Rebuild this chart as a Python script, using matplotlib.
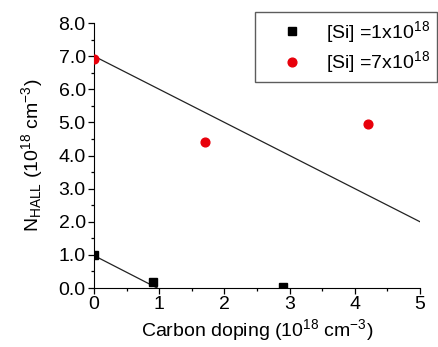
import numpy as np
import matplotlib
matplotlib.use("Agg")
import matplotlib.pyplot as plt
from matplotlib.ticker import MultipleLocator

plt.rcParams['font.family'] = ['Liberation Sans', 'DejaVu Sans']
plt.rcParams['mathtext.fontset'] = 'custom'
plt.rcParams['mathtext.rm'] = 'Liberation Sans'
plt.rcParams['mathtext.it'] = 'Liberation Sans'
plt.rcParams['mathtext.bf'] = 'Liberation Sans:bold'

# data
si1_x = [0.0, 0.9, 2.9]
si1_y = [1.0, 0.18, 0.02]
si7_x = [0.0, 1.7, 4.2]
si7_y = [6.9, 4.4, 4.95]

# linear guide lines
fit1_x = [0.0, 0.97]
fit1_y = [0.98, 0.0]
fit7_x = [0.0, 5.0]
fit7_y = [7.0, 2.0]

fig = plt.figure(figsize=(4.38, 3.47), dpi=100)
ax = fig.add_axes([0.2146, 0.170, 0.7443, 0.7637])

ax.plot(fit1_x, fit1_y, color='#222222', lw=0.9, zorder=2)
ax.plot(fit7_x, fit7_y, color='#222222', lw=0.9, zorder=2)
ax.plot(si1_x, si1_y, 's', color='black', ms=5.5, ls='none',
        label=r'[Si] =1x10$^{18}$', zorder=3)
ax.plot(si7_x, si7_y, 'o', color='#e8000b', ms=6.3, ls='none',
        label=r'[Si] =7x10$^{18}$', zorder=3)

ax.set_xlim(0, 5)
ax.set_ylim(0, 8)
ax.xaxis.set_major_locator(MultipleLocator(1))
ax.xaxis.set_minor_locator(MultipleLocator(0.5))
ax.yaxis.set_major_locator(MultipleLocator(1))
ax.yaxis.set_minor_locator(MultipleLocator(0.5))
ax.set_yticks(np.arange(0, 9, 1))
ax.set_yticklabels(['%.1f' % v for v in np.arange(0, 9, 1)])

ax.spines['top'].set_visible(False)
ax.spines['right'].set_visible(False)
ax.tick_params(which='major', direction='out', length=4, width=0.9, labelsize=14, pad=2)
ax.tick_params(which='minor', direction='out', length=2.5, width=0.9)

ax.set_xlabel(r'Carbon doping (10$^{18}$ cm$^{-3}$)', fontsize=14, labelpad=3)
ax.set_ylabel(r'N$_{HALL}$ (10$^{18}$ cm$^{-3}$)', fontsize=14, labelpad=10)

leg = fig.legend(loc='upper left', bbox_to_anchor=(0.582, 0.966), frameon=True,
                 fancybox=False, fontsize=14, handlelength=3.1, handletextpad=0.2,
                 borderpad=0.35, labelspacing=0.25, borderaxespad=0)
leg.get_frame().set_edgecolor('#333333')
leg.get_frame().set_linewidth(1.0)

fig.savefig('out.png', dpi=100)
